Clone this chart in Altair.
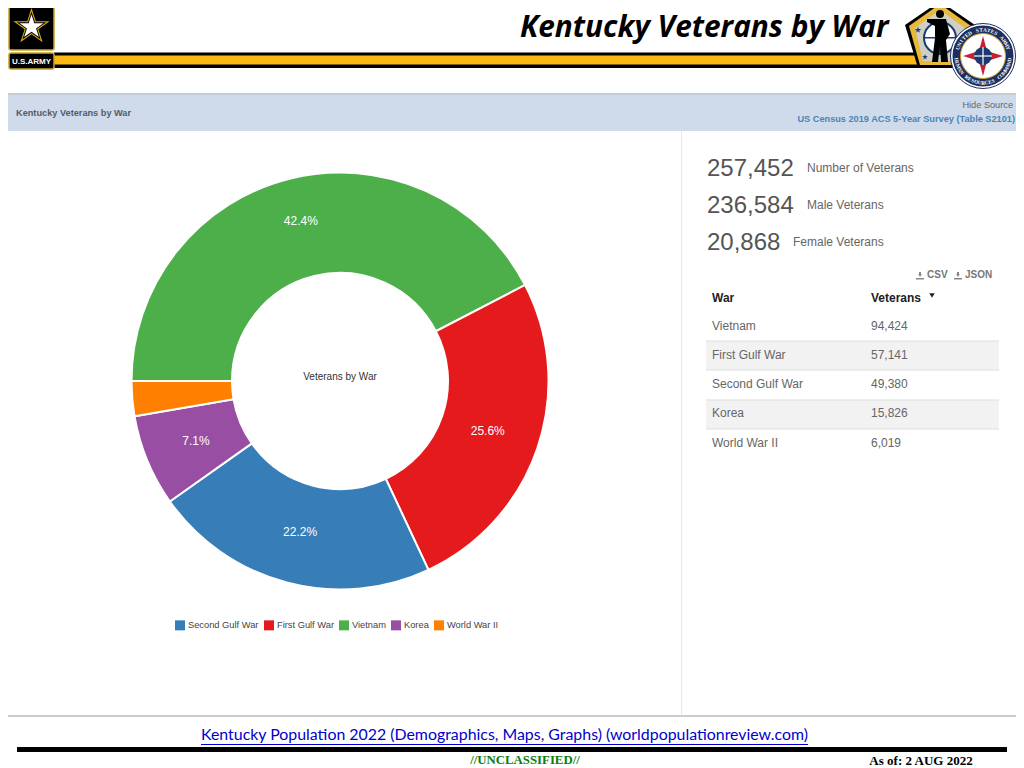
import math
import altair as alt
import pandas as pd

# ---- chart data ----
wars = ["Vietnam", "First Gulf War", "Second Gulf War", "Korea", "World War II"]
veterans = [94424, 57141, 49380, 15826, 6019]
shares = ["42.4%", "25.6%", "22.2%", "7.1%", ""]
legend_order = ["Second Gulf War", "First Gulf War", "Vietnam", "Korea", "World War II"]
legend_colors = ["#377eb8", "#e41a1c", "#4daf4a", "#984ea3", "#ff7f00"]
summary_values = ["257,452", "236,584", "20,868"]
summary_labels = ["Number of Veterans", "Male Veterans", "Female Veterans"]
table_values = ["94,424", "57,141", "49,380", "15,826", "6,019"]

UI = "Liberation Sans"
one = alt.Data(values=[{"k": 0}])
layers = []


def X(v):
    return alt.value(v - 8)


def Y(v):
    return alt.value(v - 8)


def rect(x0, y0, x1, y1, color, **kw):
    layers.append(alt.Chart(one).mark_rect(color=color, **kw).encode(x=X(x0), x2=X(x1), y=Y(y0), y2=Y(y1)))


def text(s, x, y, size=12, color="#555555", font=UI, align="left", **kw):
    layers.append(alt.Chart(alt.Data(values=[{"t": s}])).mark_text(
        font=font, fontSize=size, color=color, align=align, baseline="middle", **kw
    ).encode(x=X(x), y=Y(y), text="t:N"))


def path(d_points, fill, stroke=None, sw=0, closed=True):
    """Polygon given in page pixels, drawn as a custom symbol."""
    cx, cy = 500, 400
    d = "M" + "L".join(f"{(px - cx) / 500:.4f},{(py - cy) / 500:.4f}" for px, py in d_points) + ("Z" if closed else "")
    kw = {"fill": fill, "filled": True, "opacity": 1, "strokeWidth": sw}
    if stroke:
        kw["stroke"] = stroke
    layers.append(alt.Chart(one).mark_point(shape=d, size=1000 ** 2, **kw).encode(x=X(cx), y=Y(cy)))


def circle(cx, cy, r, fill, stroke=None, sw=0):
    kw = {"fill": fill, "filled": True, "opacity": 1, "strokeWidth": sw}
    if stroke:
        kw["stroke"] = stroke
    layers.append(alt.Chart(one).mark_point(shape="circle", size=4 * r * r, **kw).encode(x=X(cx), y=Y(cy)))


def star(cx, cy, r, fill):
    pts = []
    for i in range(10):
        a = -math.pi / 2 + i * math.pi / 5
        rr = r if i % 2 == 0 else r * 0.382
        pts.append((cx + rr * math.cos(a), cy + rr * math.sin(a)))
    path(pts, fill)


# ---- panel furniture ----
rect(0, 94, 1024, 131, "#cfdbea")
rect(0, 93, 1024, 95, "#c3ccd6")
rect(681, 131, 682, 716, "#e8e8e8")
rect(0, 715, 1024, 717, "#cccccc")
text("Kentucky Veterans by War", 16, 113, 9.2, "#555b66", fontWeight="bold")
text("Hide Source", 1013, 105, 9.2, "#666666", align="right")
text("US Census 2019 ACS 5-Year Survey (Table S2101)", 1015, 119, 9.2, "#4b84b8", align="right", fontWeight="bold")

# ---- header ----
rect(54, 52.5, 925, 68, "#000000")
rect(54, 55.5, 925, 64.5, "#fdb913")
text("Kentucky Veterans by War", 520, 28, 29.8, "#000000", font="Open Sans", fontWeight="bold", fontStyle="italic")

# army logo
rect(9, 2.5, 54, 50, "#000000", stroke="#c9a227", strokeWidth=1.5, cornerRadius=2)
star(31.5, 27, 19, "#d9ab22")
star(31.5, 27, 15.5, "#000000")
star(31.5, 27, 12.5, "#ffffff")
rect(9, 53, 54, 69, "#000000", stroke="#c9a227", strokeWidth=1.5, cornerRadius=2)
text("U.S.ARMY", 31.5, 61.5, 8, "#ffffff", align="center", fontWeight="bold")

# soldier pentagon
path([(940, 1), (975, 25), (965, 68), (918, 68), (905, 25)], "#000000")
path([(940, 4), (971, 26), (962, 65), (920, 65), (909, 26)], "#e8b93a")
path([(940, 10), (965, 28), (958, 61), (923, 61), (915, 28)], "#cfcfc4")
circle(940, 38, 16, "#ffffff", "#1c3a70", 2)
rect(925, 37, 955, 38.5, "#1c3a70")
rect(939, 22, 941, 54, "#1c3a70")
star(918, 30, 3.5, "#1c3a70")
star(925, 57, 3, "#1c3a70")
circle(940, 14, 4, "#000000")
path([(934, 19), (946, 19), (950, 34), (946, 40), (948, 62), (941, 62), (940, 45), (938, 62), (932, 62),
      (935, 38), (935, 26), (927, 22), (927, 19)], "#000000")

# HRC seal
SX, SY, SR = 983, 56, 32.5
circle(SX, SY, SR, "#ffffff", "#1c2f5f", 1)
circle(SX, SY, SR - 2, "#1c2f5f")
circle(SX, SY, SR - 10, "#ffffff", "#c9a227", 1)
path([(SX, SY - 20), (SX + 4, SY - 5), (SX + 20, SY), (SX + 4, SY + 5), (SX, SY + 20), (SX - 4, SY + 5),
      (SX - 20, SY), (SX - 4, SY - 5)], "#c8202f")
circle(SX, SY, 9, "#1c3a70")
rect(SX - 0.6, SY - 9, SX + 0.6, SY + 9, "#ffffff")
rect(SX - 9, SY - 0.6, SX + 9, SY + 0.6, "#ffffff")


def ring(label, start, end, bottom=False):
    n = len(label)
    for i, ch in enumerate(label):
        if ch == " ":
            continue
        a = start + (end - start) * i / (n - 1)
        rad = math.radians(a)
        r = SR - 6
        x, y = SX + r * math.sin(rad), SY - r * math.cos(rad)
        rot = (a + 180) % 360 if bottom else a % 360
        text(ch, x, y, 5.2, "#ffffff", font="Liberation Serif", align="center", fontWeight="bold", angle=rot)


ring("UNITED STATES ARMY", -72, 72)
ring("HUMAN RESOURCES COMMAND", 262, 98, bottom=True)

# ---- doughnut ----
df = pd.DataFrame({"war": wars, "veterans": veterans, "share": shares})
theta = alt.Theta("veterans:Q", stack=True,
                  scale=alt.Scale(range=[-math.pi / 2, 3 * math.pi / 2], zero=True, nice=False))
order = alt.Order("veterans:Q", sort="descending")
CX, CY = 340, 381

layers.append(alt.Chart(df).mark_arc(outerRadius=208.5, innerRadius=108, stroke="#ffffff", strokeWidth=2).encode(
    x=X(CX), y=Y(CY), theta=theta, order=order,
    color=alt.Color("war:N", scale=alt.Scale(domain=legend_order, range=legend_colors),
                    legend=alt.Legend(orient="none", legendX=167, legendY=612, direction="horizontal", columns=5,
                                      title=None, symbolType="square", symbolSize=100, symbolStrokeWidth=0,
                                      labelFont=UI, labelFontSize=9.3, labelColor="#444444", labelOffset=3,
                                      columnPadding=5, padding=0, labelLimit=200)),
))
top = alt.Chart(df).transform_calculate(top="datum.war === 'Vietnam' ? datum.share : ''",
                                        rest="datum.war === 'Vietnam' ? '' : datum.share")
layers.append(top.mark_text(radius=165, font=UI, fontSize=12, color="#ffffff").encode(
    x=X(CX), y=Y(CY), theta=theta, order=order, text="top:N"))
layers.append(top.mark_text(radius=156, font=UI, fontSize=12, color="#ffffff").encode(
    x=X(CX), y=Y(CY), theta=theta, order=order, text="rest:N"))
text("Veterans by War", 340, 377, 10, "#333333", align="center")

# ---- summary figures ----
gaps = [807, 807, 793]
for v, l, y, lx in zip(summary_values, summary_labels, [168, 205, 242], gaps):
    text(v, 707, y + 1, 24, "#555555")
    text(l, lx, y, 12, "#666666")

# ---- download links ----
for ix, lab, lx in [(920, "CSV", 927), (958, "JSON", 965)]:
    rect(ix - 1, 272, ix + 1, 275, "#888888")
    layers.append(alt.Chart(one).mark_point(shape="triangle-down", size=14, filled=True, color="#888888", opacity=1)
                  .encode(x=X(ix), y=Y(275.5)))
    rect(ix - 4, 278, ix + 4, 279.5, "#888888")
    text(lab, lx, 275, 10, "#777777", fontWeight="bold")

# ---- table ----
rect(706, 341, 999, 370, "#f2f2f2")
rect(706, 400, 999, 429, "#f2f2f2")
for y in (341, 370, 400, 429):
    rect(706, y - 0.5, 999, y + 0.5, "#dddddd")
text("War", 712, 297.5, 12, "#222222", fontWeight="bold")
text("Veterans", 871, 297.5, 12, "#222222", fontWeight="bold")
layers.append(alt.Chart(one).mark_point(shape="triangle-down", size=30, filled=True, color="#222222", opacity=1)
              .encode(x=X(932), y=Y(295.5)))
for w, v, y in zip(wars, table_values, [326, 355, 384, 413, 443]):
    text(w, 712, y, 12, "#666666")
    text(v, 871, y, 12, "#666666")

# ---- footer ----
text("Kentucky Population 2022 (Demographics, Maps, Graphs) (worldpopulationreview.com)", 201, 735, 15.9,
     "#0000cc", font="Lato")
rect(201, 744, 808, 745, "#0000cc")
rect(17, 747, 1007, 752, "#000000")
text("//UNCLASSIFIED//", 525, 760, 12.8, "#0a7d0a", font="Liberation Serif", align="center", fontWeight="bold")
text("As of: 2 AUG 2022", 921, 761, 13, "#000000", font="Liberation Serif", align="center", fontWeight="bold")

chart = alt.layer(*layers).properties(
    width=1008, height=760, padding=0, autosize=alt.AutoSizeParams(type="none")
).configure(background="#ffffff").configure_view(strokeWidth=0, stroke=None)

chart.save("out.html", embed_options={"renderer": "svg", "actions": False})
